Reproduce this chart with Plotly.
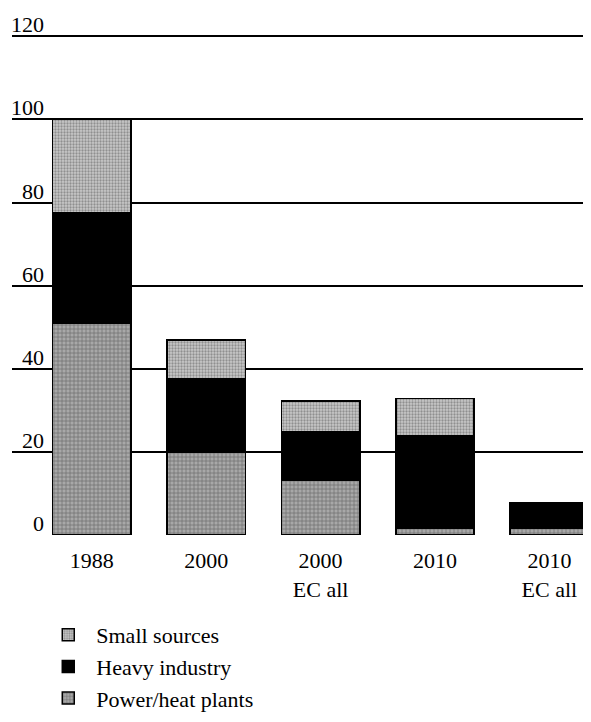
import plotly.graph_objects as go

categories = ["1988", "2000", "2000<br>EC all", "2010", "2010<br>EC all"]
power_heat = [51, 20, 13.2, 1.7, 1.7]
heavy_industry = [26.6, 17.7, 11.6, 22.3, 6.0]
small_sources = [22.4, 9.2, 7.4, 8.9, 0]
y_ticks = [0, 20, 40, 60, 80, 100, 120]

FONT = "'Liberation Serif', 'DejaVu Serif', serif"
xs = list(range(len(categories)))

fig = go.Figure()
fig.add_trace(go.Bar(
    x=xs, y=power_heat, name="Power/heat plants",
    marker=dict(color="#8c8c8c", line=dict(color="black", width=1.5),
                pattern=dict(shape="+", fgcolor="#3c3c3c", bgcolor="#a8a8a8",
                             size=4, solidity=0.35)),
))
fig.add_trace(go.Bar(
    x=xs, y=heavy_industry, name="Heavy industry",
    marker=dict(color="black", line=dict(color="black", width=1.5)),
))
fig.add_trace(go.Bar(
    x=xs, y=small_sources, name="Small sources",
    marker=dict(color="#b8b8b8", line=dict(color="black", width=1.5),
                pattern=dict(shape=".", fgcolor="#555555", bgcolor="#c8c8c8",
                             size=3, solidity=0.45)),
))

# y labels sit above the gridlines, on the left
for v in y_ticks:
    fig.add_annotation(x=0.059, y=v, xref="paper", yref="y", text=str(v),
                       showarrow=False, xanchor="right", yanchor="bottom",
                       yshift=-3, font=dict(family=FONT, size=22, color="black"))

# page body adds 8px margin, so figure is 8px smaller
fig.update_layout(
    width=583, height=714,
    margin=dict(l=4, r=2, t=27, b=187, autoexpand=False),
    barmode="stack", bargap=0.315,
    plot_bgcolor="white", paper_bgcolor="white",
    font=dict(family=FONT, size=22, color="black"),
    legend=dict(x=0.049, y=-0.158, xanchor="left", yanchor="top",
                traceorder="reversed", font=dict(family=FONT, size=22),
                bgcolor="rgba(0,0,0,0)", itemwidth=46, tracegroupgap=0),
    xaxis=dict(tickmode="array", tickvals=xs, ticktext=categories,
               range=[-0.697, 4.346], showgrid=False, zeroline=False,
               showline=False, ticks="", tickfont=dict(size=22),
               ticklabelstandoff=10),
    yaxis=dict(range=[0, 120.3], tickvals=y_ticks, showticklabels=False,
               showgrid=True, gridcolor="black", gridwidth=1.5,
               zeroline=False, showline=False, ticks=""),
)

fig.write_html("out.html")
